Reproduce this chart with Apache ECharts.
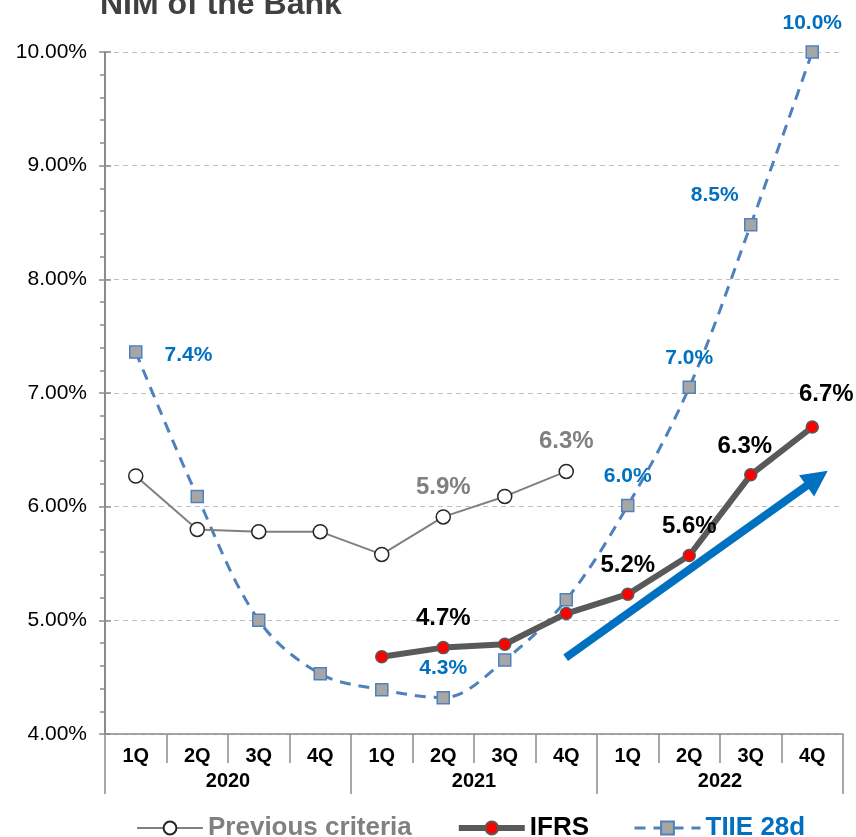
<!DOCTYPE html>
<html>
<head>
<meta charset="utf-8">
<script src="https://cdn.jsdelivr.net/npm/echarts@6/dist/echarts.min.js"></script>
<style>
html,body{margin:0;padding:0;background:#fff;}
#chart{width:856px;height:837px;}
</style>
</head>
<body>
<div id="chart"></div>
<script>
// ---- data ----
const quarters = ['1Q','2Q','3Q','4Q','1Q','2Q','3Q','4Q','1Q','2Q','3Q','4Q'];
const years = ['2020','2021','2022'];
const prevCriteria = [6.27, 5.80, 5.78, 5.78, 5.58, 5.91, 6.09, 6.31, null, null, null, null];
const ifrs = [null, null, null, null, 4.68, 4.76, 4.79, 5.06, 5.23, 5.57, 6.28, 6.70];
const tiie = [7.36, 6.09, 5.00, 4.53, 4.39, 4.32, 4.65, 5.18, 6.01, 7.05, 8.48, 10.00];
const prevLabels = ['', '', '', '', '', '5.9%', '', '6.3%', '', '', '', ''];
const ifrsLabels = ['', '', '', '', '', '4.7%', '', '', '5.2%', '5.6%', '6.3%', '6.7%'];
const tiieLabels = ['7.4%', '', '', '', '', '4.3%', '', '', '6.0%', '7.0%', '8.5%', '10.0%'];
const yTicks = {min: 4, max: 10, interval: 1};
// trend arrow annotation (in x-position units of quarters, y in %)
const trendArrow = [[7.49, 4.67], [11.58, 6.25]];

// ---- label placement (style) ----
const tiieLabelPos = {0: {position: 'right', distance: 22, offset: [0, 3]}, 10: {position: 'top', offset: [-36, 0]}};
const ifrsLabelPos = {11: {position: 'top', offset: [14, -4]}, 10: {position: 'top', offset: [-6, 0]}};

function buildData(values, labels, base, overrides) {
  return values.map((v, i) => {
    if (v === null) return null;
    const item = {value: v};
    if (labels[i]) {
      item.label = Object.assign({show: true, formatter: labels[i], position: 'top'}, base, overrides[i] || {});
    }
    return item;
  });
}

const chart = echarts.init(document.getElementById('chart'), null, {renderer: 'canvas'});
const FONT = 'Liberation Sans, Arial, sans-serif';

const option = {
  animation: false,
  textStyle: {fontFamily: FONT},
  title: {
    text: 'NIM of the Bank',
    left: 95,
    top: -16,
    textStyle: {fontSize: 32, fontWeight: 'bold', color: '#404040', fontFamily: FONT}
  },
  grid: {left: 105, right: 13, top: 52, bottom: 103, containLabel: false},
  legend: {
    bottom: -9,
    left: 131,
    itemGap: 44,
    itemWidth: 66,
    itemHeight: 16,
    textStyle: {fontSize: 26, fontWeight: 'bold', fontFamily: FONT},
    data: [
      {name: 'Previous criteria', textStyle: {color: '#808080'}, lineStyle: {width: 2}},
      {name: 'IFRS', textStyle: {color: '#000000'}, lineStyle: {width: 6}},
      {name: 'TIIE 28d', textStyle: {color: '#0070C0'}, lineStyle: {width: 3}}
    ]
  },
  xAxis: [
    {
      type: 'category',
      data: quarters,
      position: 'bottom',
      axisLine: {show: true, lineStyle: {color: '#8C8C8C', width: 1.5}},
      axisTick: {show: true, interval: 0, length: 29, lineStyle: {color: '#8C8C8C', width: 1.5}},
      axisLabel: {interval: 0, margin: 12, fontSize: 20, fontWeight: 'bold', color: '#000', fontFamily: FONT},
      splitLine: {show: false}
    },
    {
      type: 'category',
      data: years,
      position: 'bottom',
      axisLine: {show: false},
      axisTick: {show: true, interval: 0, length: 60, lineStyle: {color: '#8C8C8C', width: 1.5}},
      axisLabel: {interval: 0, margin: 37, fontSize: 20, fontWeight: 'bold', color: '#000', fontFamily: FONT},
      splitLine: {show: false}
    },
    {type: 'value', min: 0, max: 12, show: false}
  ],
  yAxis: [
    {
      type: 'value',
      min: yTicks.min, max: yTicks.max, interval: yTicks.interval,
      axisLine: {show: true, lineStyle: {color: '#8C8C8C', width: 2}},
      axisTick: {show: true, inside: false, length: 6, lineStyle: {color: '#8C8C8C', width: 1.5}},
      minorTick: {show: true, splitNumber: 5, length: 5, lineStyle: {color: '#8C8C8C', width: 1.5}},
      axisLabel: {margin: 18, fontSize: 21, color: '#000', fontFamily: FONT, formatter: v => v.toFixed(2) + '%'},
      splitLine: {show: true, lineStyle: {color: '#BFBFBF', type: [5, 4], width: 1}}
    },
    {
      type: 'value',
      min: yTicks.min, max: yTicks.max, interval: yTicks.interval,
      position: 'left',
      axisLine: {show: false},
      axisTick: {show: true, inside: true, length: 6, lineStyle: {color: '#8C8C8C', width: 1.5}},
      axisLabel: {show: false},
      splitLine: {show: false}
    }
  ],
  series: [
    {
      name: 'TIIE 28d',
      type: 'line',
      smooth: 0.35,
      data: buildData(tiie, tiieLabels, {fontSize: 21, fontWeight: 'bold', color: '#0070C0', distance: 12, fontFamily: FONT}, tiieLabelPos),
      symbol: 'rect',
      symbolSize: 12,
      itemStyle: {color: '#A6A6A6', borderColor: '#4F81BD', borderWidth: 1.5},
      lineStyle: {color: '#4F81BD', width: 3, type: [11, 8]},
      z: 2
    },
    {
      name: 'Previous criteria',
      type: 'line',
      data: buildData(prevCriteria, prevLabels, {fontSize: 24, fontWeight: 'bold', color: '#808080', distance: 10, fontFamily: FONT}, {}),
      symbol: 'circle',
      symbolSize: 14,
      itemStyle: {color: '#FFFFFF', borderColor: '#262626', borderWidth: 1.5},
      lineStyle: {color: '#808080', width: 2},
      z: 3
    },
    {
      name: 'IFRS',
      type: 'line',
      data: buildData(ifrs, ifrsLabels, {fontSize: 24, fontWeight: 'bold', color: '#000000', distance: 10, fontFamily: FONT}, ifrsLabelPos),
      symbol: 'circle',
      symbolSize: 12,
      itemStyle: {color: '#FF0000', borderColor: '#595959', borderWidth: 1.5},
      lineStyle: {color: '#595959', width: 6},
      z: 4
    },
    {
      name: 'trend',
      type: 'lines',
      coordinateSystem: 'cartesian2d',
      xAxisIndex: 2,
      yAxisIndex: 0,
      symbol: ['none', 'triangle'],
      symbolSize: [30, 26],
      lineStyle: {color: '#0070C0', width: 8, opacity: 1},
      itemStyle: {color: '#0070C0'},
      data: [{coords: trendArrow}],
      z: 5,
      silent: true
    }
  ]
};
chart.setOption(option);
</script>
</body>
</html>
